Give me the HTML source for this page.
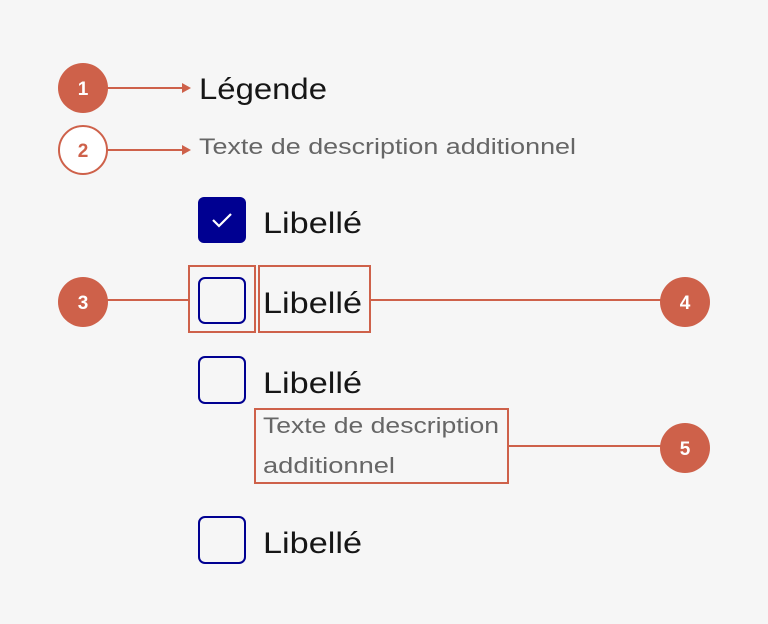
<!DOCTYPE html>
<html><head><meta charset="utf-8"><style>
html,body{margin:0;padding:0;background:#f6f6f6;}
svg{display:block;}
text{font-family:"Liberation Sans",sans-serif;}
</style></head><body>
<svg width="768" height="624" viewBox="0 0 768 624" xmlns="http://www.w3.org/2000/svg">
<rect width="768" height="624" fill="#f6f6f6"/>
<g stroke="#ce614a" stroke-width="2" fill="none">
<line x1="107" y1="88" x2="184" y2="88"/>
<line x1="107" y1="150" x2="184" y2="150"/>
<line x1="107" y1="300" x2="189" y2="300"/>
<line x1="370" y1="300" x2="661" y2="300"/>
<line x1="508" y1="446" x2="661" y2="446"/>
<rect x="189" y="266" width="66" height="66"/>
<rect x="259" y="266" width="111" height="66"/>
<rect x="255" y="409" width="253" height="74"/>
</g>
<polygon points="182,83 191,88 182,93" fill="#ce614a"/>
<polygon points="182,145 191,150 182,155" fill="#ce614a"/>
<circle cx="83" cy="88" r="25" fill="#ce614a"/>
<circle cx="83" cy="150" r="24" fill="#fff" stroke="#ce614a" stroke-width="2"/>
<circle cx="83" cy="302" r="25" fill="#ce614a"/>
<circle cx="685" cy="302" r="25" fill="#ce614a"/>
<circle cx="685" cy="448" r="25" fill="#ce614a"/>
<g font-size="19" font-weight="bold" text-anchor="middle">
<text x="83" y="95" fill="#fff">1</text>
<text x="83" y="157" fill="#ce614a">2</text>
<text x="83" y="309" fill="#fff">3</text>
<text x="685" y="309" fill="#fff">4</text>
<text x="685" y="455" fill="#fff">5</text>
</g>
<rect x="198" y="197" width="48" height="46" rx="6" fill="#000091"/>
<polyline points="213,220 219,226 231,214" fill="none" stroke="#fff" stroke-width="2.2"/>
<g fill="none" stroke="#000091" stroke-width="2">
<rect x="199" y="278" width="46" height="45" rx="6"/>
<rect x="199" y="357" width="46" height="46" rx="6"/>
<rect x="199" y="517" width="46" height="46" rx="6"/>
</g>
<text x="199" y="99" font-size="30" fill="#161616" textLength="128" lengthAdjust="spacingAndGlyphs">Légende</text>
<text x="199" y="154" font-size="22" fill="#666" textLength="377" lengthAdjust="spacingAndGlyphs">Texte de description additionnel</text>
<g font-size="30" fill="#161616">
<text x="263" y="233" textLength="99" lengthAdjust="spacingAndGlyphs">Libellé</text>
<text x="263" y="313" textLength="99" lengthAdjust="spacingAndGlyphs">Libellé</text>
<text x="263" y="393" textLength="99" lengthAdjust="spacingAndGlyphs">Libellé</text>
<text x="263" y="553" textLength="99" lengthAdjust="spacingAndGlyphs">Libellé</text>
</g>
<text x="263" y="433" font-size="22" fill="#666" textLength="236" lengthAdjust="spacingAndGlyphs">Texte de description</text>
<text x="263" y="473" font-size="22" fill="#666" textLength="132" lengthAdjust="spacingAndGlyphs">additionnel</text>
</svg>
</body></html>
